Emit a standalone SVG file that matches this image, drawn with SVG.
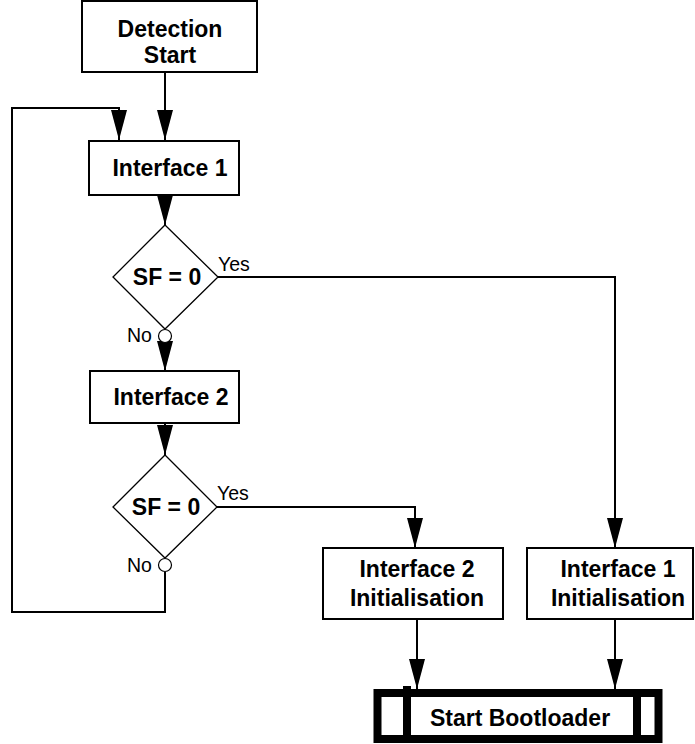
<svg xmlns="http://www.w3.org/2000/svg" width="695" height="744" viewBox="0 0 695 744">
<style>
  .box{fill:#fff;stroke:#000;stroke-width:2}
  .dia{fill:#fff;stroke:#000;stroke-width:1.3}
  .circ{fill:#fff;stroke:#000;stroke-width:1.2}
  .t{font-family:"Liberation Sans",Arial,Helvetica,sans-serif;font-weight:bold;font-size:23px;text-anchor:middle;fill:#000}
  .l{font-family:"Liberation Sans",Arial,Helvetica,sans-serif;font-size:19.5px;fill:#000}
  .c{fill:none;stroke:#000;stroke-width:2}
  .thick{fill:#fff;stroke:#000;stroke-width:8}
</style>
<defs>
  <marker id="ah" viewBox="0 0 30 16" markerWidth="30" markerHeight="16" refX="30" refY="8" orient="auto" markerUnits="userSpaceOnUse">
    <path d="M0,0 L30,8 L0,16 z" fill="#000"/>
  </marker>
</defs>
<g id="connectors">
  <path class="c" d="M165,73 V140" marker-end="url(#ah)"/>
  <path class="c" d="M165,572 V612 H12 V108 H119 V140" marker-end="url(#ah)"/>
  <path class="c" d="M165,195 V225" marker-end="url(#ah)"/>
  <path class="c" d="M218,277 H615 V548" marker-end="url(#ah)"/>
  <path class="c" d="M165,343 V371" marker-end="url(#ah)"/>
  <path class="c" d="M165,423 V455" marker-end="url(#ah)"/>
  <path class="c" d="M217,507 H415 V548" marker-end="url(#ah)"/>
  <path class="c" d="M417,619 V689" marker-end="url(#ah)"/>
  <path class="c" d="M615,619 V689" marker-end="url(#ah)"/>
  <text class="l" x="218" y="271">Yes</text>
  <text class="l" x="127" y="342">No</text>
  <text class="l" x="217" y="500">Yes</text>
  <text class="l" x="127" y="572">No</text>
</g>
<g id="detection-start">
  <rect class="box" x="82" y="1" width="175" height="71"/>
  <text class="t" x="170" y="37">Detection</text>
  <text class="t" x="170" y="63">Start</text>
</g>
<g id="interface1">
  <rect class="box" x="89" y="141" width="150" height="54"/>
  <text class="t" x="170" y="176">Interface 1</text>
</g>
<g id="decision1">
  <polygon class="dia" points="165,225 218,277 165,329 113,277"/>
  <text class="t" x="167" y="285">SF = 0</text>
  <circle class="circ" cx="165" cy="336" r="6.5"/>
</g>
<g id="interface2">
  <rect class="box" x="90" y="371" width="149" height="52"/>
  <text class="t" x="171" y="405">Interface 2</text>
</g>
<g id="decision2">
  <polygon class="dia" points="165,455 217,507 165,558 113,507"/>
  <text class="t" x="166" y="515">SF = 0</text>
  <circle class="circ" cx="165" cy="565" r="6.5"/>
</g>
<g id="interface2-init">
  <rect class="box" x="323" y="548" width="180" height="71"/>
  <text class="t" x="417" y="577">Interface 2</text>
  <text class="t" x="417" y="606">Initialisation</text>
</g>
<g id="interface1-init">
  <rect class="box" x="527" y="548" width="166" height="71"/>
  <text class="t" x="618" y="577">Interface 1</text>
  <text class="t" x="618" y="606">Initialisation</text>
</g>
<g id="start-bootloader">
  <rect class="thick" x="377.5" y="693" width="281" height="46"/>
  <rect x="403" y="686" width="8" height="53" fill="#000"/>
  <rect x="633" y="693" width="8" height="46" fill="#000"/>
  <text class="t" x="520" y="726">Start Bootloader</text>
</g>
</svg>
